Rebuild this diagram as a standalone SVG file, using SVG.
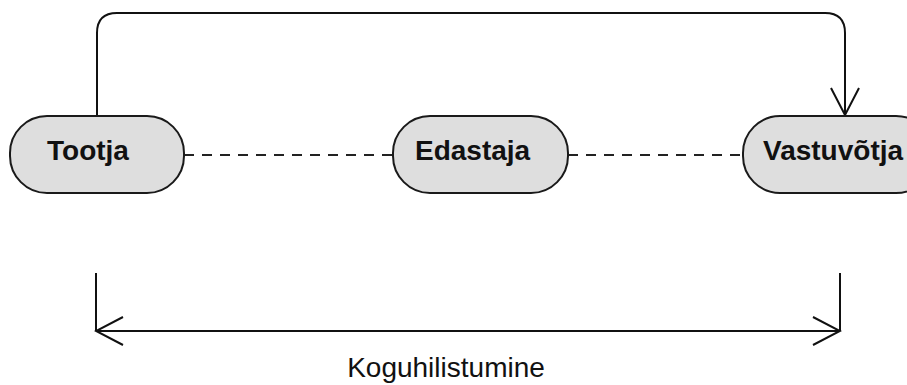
<svg xmlns="http://www.w3.org/2000/svg" width="907" height="385" viewBox="0 0 907 385">
<style>
.node{fill:#dedede;stroke:#1a1a1a;stroke-width:2}
.lbl{font-family:"Liberation Sans",Arial,sans-serif;font-weight:bold;font-size:28px;fill:#111}
.cap{font-family:"Liberation Sans",Arial,sans-serif;font-size:28px;fill:#111}
.ln{fill:none;stroke:#111;stroke-width:2}
.dash{fill:none;stroke:#222;stroke-width:2;stroke-dasharray:10 8}
</style>
<defs>
<marker id="open" markerUnits="userSpaceOnUse" viewBox="0 0 30 30" refX="28" refY="15" markerWidth="30" markerHeight="30" orient="auto-start-reverse">
<path d="M1,1 L28,15 L1,29" fill="none" stroke="#111" stroke-width="2"/>
</marker>
</defs>
<rect width="907" height="385" fill="#fff"/>
<g id="connectors">
<path class="dash" d="M184 155 H393"/>
<path class="dash" d="M568 155 H743"/>
<path class="ln" d="M97 116 V33 Q97 13 117 13 H825 Q845 13 845 33 V115" marker-end="url(#open)"/>
<path class="ln" d="M96 273 V331"/>
<path class="ln" d="M840 273 V331"/>
<path class="ln" d="M96 331 H840" marker-start="url(#open)" marker-end="url(#open)"/>
</g>
<g id="tootja">
<rect class="node" x="10" y="116" width="174" height="77" rx="37" ry="37"/>
<text class="lbl" x="47" y="160">Tootja</text>
</g>
<g id="edastaja">
<rect class="node" x="393" y="116" width="175" height="77" rx="37" ry="37"/>
<text class="lbl" x="415" y="160">Edastaja</text>
</g>
<g id="vastuvotja">
<rect class="node" x="743" y="116" width="190" height="77" rx="37" ry="37"/>
<text class="lbl" x="763" y="160">Vastuvõtja</text>
</g>
<g id="koguhilistumine">
<text class="cap" x="446" y="377" text-anchor="middle">Koguhilistumine</text>
</g>
</svg>
